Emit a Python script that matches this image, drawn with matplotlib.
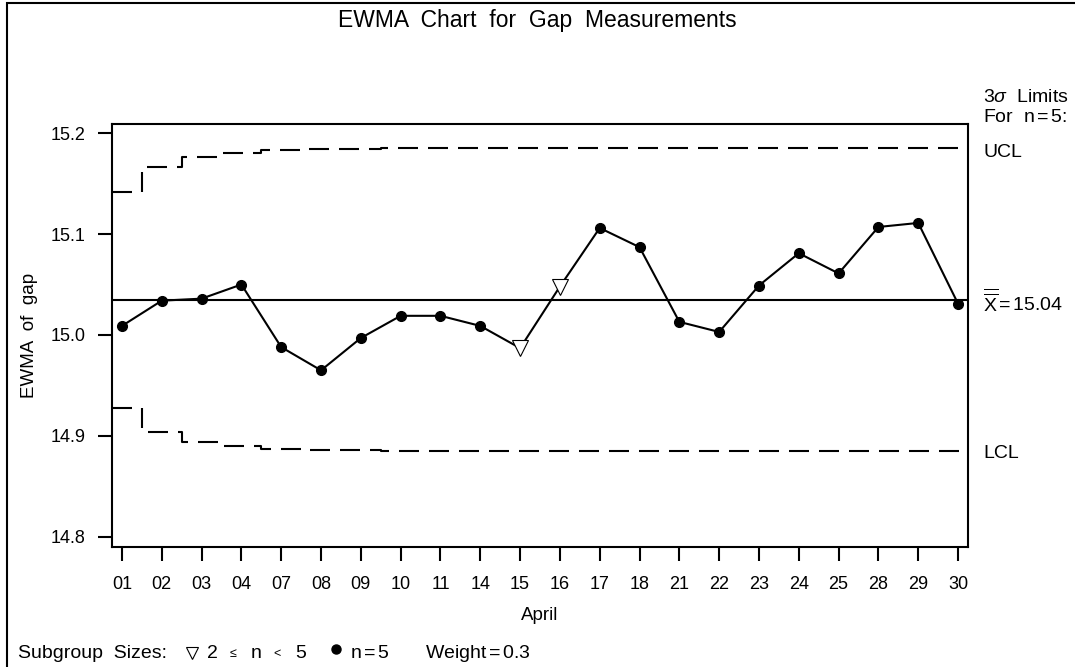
import numpy as np
import matplotlib.pyplot as plt
from matplotlib.lines import Line2D
from matplotlib.patches import Rectangle

plt.rcParams['font.family'] = ['Liberation Sans', 'DejaVu Sans']
plt.rcParams['mathtext.fontset'] = 'custom'
plt.rcParams['mathtext.rm'] = 'Liberation Sans'
plt.rcParams['mathtext.it'] = 'Liberation Sans:italic'

# April dates (subgroups)
days = ['01', '02', '03', '04', '07', '08', '09', '10', '11', '14', '15',
        '16', '17', '18', '21', '22', '23', '24', '25', '28', '29', '30']
# EWMA of gap
ewma = [15.009, 15.034, 15.036, 15.050, 14.988, 14.965, 14.997, 15.019,
        15.019, 15.009, 14.987, 15.048, 15.106, 15.087, 15.013, 15.003,
        15.049, 15.081, 15.061, 15.107, 15.111, 15.031]
# subgroup size n (2<=n<5 at days 15 and 16)
nsize = [5, 5, 5, 5, 5, 5, 5, 5, 5, 5, 3, 4, 5, 5, 5, 5, 5, 5, 5, 5, 5, 5]
center = 15.035
ucl = [15.142, 15.166, 15.176, 15.180, 15.183, 15.184, 15.184, 15.185,
       15.185, 15.185, 15.185, 15.185, 15.185, 15.185, 15.185, 15.185,
       15.185, 15.185, 15.185, 15.185, 15.185, 15.185]
lcl = [14.928, 14.904, 14.894, 14.890, 14.887, 14.886, 14.886, 14.885,
       14.885, 14.885, 14.885, 14.885, 14.885, 14.885, 14.885, 14.885,
       14.885, 14.885, 14.885, 14.885, 14.885, 14.885]

W, H = 1075.0, 667.0
fig = plt.figure(figsize=(10.75, 6.67), dpi=100)
ax = fig.add_axes([112 / W, 1 - 547 / H, 856 / W, 423 / H])

x = np.arange(len(days))
x0, x1 = -0.25, len(days) - 0.75
ax.set_xlim(x0, x1)
ax.set_ylim(14.79, 15.209)

# step limits extended to the frame
xs = np.concatenate([[x0], x, [x1]])
u = np.concatenate([[ucl[0]], ucl, [ucl[-1]]])
l = np.concatenate([[lcl[0]], lcl, [lcl[-1]]])
ax.step(xs, u, where='mid', color='black', lw=1.5, dashes=(9.6, 4.8))
ax.step(xs, l, where='mid', color='black', lw=1.5, dashes=(9.6, 4.8))
ax.axhline(center, color='black', lw=1.5)

ax.plot(x, ewma, color='black', lw=1.5, zorder=3)
nsize = np.array(nsize)
ewma = np.array(ewma)
full = nsize == 5
ax.plot(x[full], ewma[full], 'o', color='black', ms=7, zorder=4)
ax.plot(x[~full], ewma[~full], 'v', mfc='white', mec='black', mew=0.8,
        ms=11, zorder=4)

ax.set_xticks(x)
ax.set_xticklabels(days)
ax.set_yticks([14.8, 14.9, 15.0, 15.1, 15.2])
ax.set_yticklabels(['14.8', '14.9', '15.0', '15.1', '15.2'])
ax.tick_params(direction='out', length=10, width=1.5, labelsize=13)
ax.tick_params(axis='x', pad=11)
ax.tick_params(axis='y', pad=9)
for s in ax.spines.values():
    s.set_linewidth(1.5)

ax.set_xlabel('April', fontsize=13.5, labelpad=10)
ax.set_ylabel('EWMA  of  gap', fontsize=13.5, labelpad=9)

fig.text(0.5, 1 - 20 / H, 'EWMA  Chart  for  Gap  Measurements', ha='center',
         va='center', fontsize=16.5)

# right-hand labels
fig.text(983 / W, 1 - 97 / H, r'3$\sigma$  Limits', fontsize=14, va='center')
fig.text(983 / W, 1 - 118 / H, 'For  n$\,$=$\,$5:', fontsize=14, va='center')
ax.annotate('UCL', xy=(1, ucl[-1]), xycoords=('axes fraction', 'data'),
            xytext=(11, -3), textcoords='offset points', fontsize=14,
            va='center')
ax.annotate(r'$\overline{\overline{\mathrm{X}}}$$\,$=$\,$15.04', xy=(1, center),
            xycoords=('axes fraction', 'data'), xytext=(11, -2),
            textcoords='offset points', fontsize=14, va='center')
ax.annotate('LCL', xy=(1, lcl[-1]), xycoords=('axes fraction', 'data'),
            xytext=(11, -2), textcoords='offset points', fontsize=14,
            va='center')

# legend line at the bottom
ly = 1 - 654 / H
fig.text(18 / W, ly, 'Subgroup  Sizes:', fontsize=14, va='center')
fig.add_artist(Line2D([192 / W], [ly + 0.002], marker='v', mfc='white',
                      mec='black', mew=0.8, ms=8, transform=fig.transFigure))
fig.text(212 / W, ly, '2', fontsize=14, va='center', ha='center')
fig.text(233 / W, ly, '\u2264', fontsize=9, va='center', ha='center')
fig.text(256 / W, ly, 'n', fontsize=14, va='center', ha='center')
fig.text(277 / W, ly, '<', fontsize=9, va='center', ha='center')
fig.text(301 / W, ly, '5', fontsize=14, va='center', ha='center')
fig.add_artist(Line2D([336 / W], [ly + 0.008], marker='o', color='black',
                      ms=6.5, transform=fig.transFigure))
fig.text(350 / W, ly, 'n$\,$=$\,$5', fontsize=14, va='center')
fig.text(425 / W, ly, 'Weight$\,$=$\,$0.3', fontsize=14, va='center')

# outer frame
fig.add_artist(Rectangle((7 / W, -0.01), 1.0, 1.005, fill=False, lw=1.5,
                         ec='black', transform=fig.transFigure))

fig.savefig('out.png', dpi=100)
